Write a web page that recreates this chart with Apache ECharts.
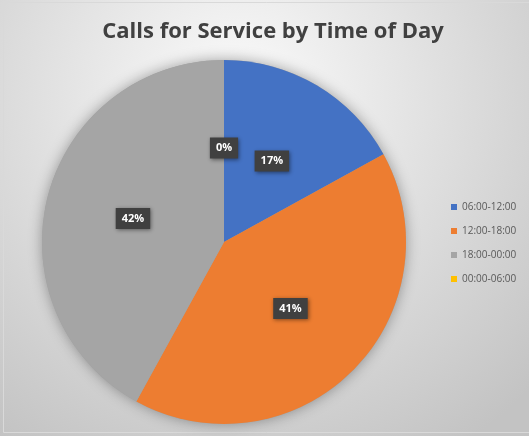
<!DOCTYPE html>
<html>
<head>
<meta charset="utf-8">
<script src="https://cdn.jsdelivr.net/npm/echarts@6/dist/echarts.min.js"></script>
<style>
  html, body { margin: 0; padding: 0; background: #ffffff; }
  #chart { width: 529px; height: 436px; }
</style>
</head>
<body>
<div id="chart"></div>
<script>
const titleText = "Calls for Service by Time of Day";
const categories = ["06:00-12:00", "12:00-18:00", "18:00-00:00", "00:00-06:00"];
const shares = [17, 41, 42, 0];
const colors = ["#4472C4", "#ED7D31", "#A5A5A5", "#FFC000"];

const chart = echarts.init(document.getElementById("chart"));

const pieData = categories.map((name, i) => ({ name, value: shares[i] }));

const option = {
  backgroundColor: {
    type: "radial",
    x: 0.45,
    y: 0.22,
    r: 0.95,
    colorStops: [
      { offset: 0, color: "#fbfbfb" },
      { offset: 1, color: "#c3c3c3" }
    ]
  },
  color: colors,
  title: {
    text: titleText,
    left: 268,
    textAlign: "center",
    top: 16,
    textStyle: {
      fontFamily: "Open Sans",
      fontWeight: "bold",
      fontSize: 22,
      color: "#404040"
    }
  },
  legend: {
    orient: "vertical",
    left: 446,
    top: 197,
    icon: "rect",
    itemWidth: 6,
    itemHeight: 6,
    itemGap: 14,
    data: categories,
    textStyle: {
      fontFamily: "Open Sans",
      fontSize: 10,
      color: "#595959"
    }
  },
  graphic: [
    {
      type: "rect",
      shape: { x: 3.5, y: 2.5, width: 530, height: 430 },
      style: { fill: "none", stroke: "#d9d9d9", lineWidth: 1 },
      silent: true
    }
  ],
  series: [
    {
      // shadow disc behind the slices
      type: "pie",
      silent: true,
      center: [224, 242],
      radius: [0, 182],
      label: { show: false },
      labelLine: { show: false },
      itemStyle: {
        color: "#a0a0a0",
        shadowBlur: 14,
        shadowColor: "rgba(0,0,0,0.35)"
      },
      data: [{ name: "bg", value: 1 }],
      z: 1
    },
    {
      name: titleText,
      type: "pie",
      center: [224, 242],
      radius: [0, 182],
      startAngle: 90,
      clockwise: true,
      percentPrecision: 0,
      z: 2,
      emphasis: { disabled: true },
      itemStyle: { borderWidth: 0 },
      label: {
        show: true,
        position: "inside",
        formatter: "{d}%",
        fontFamily: "Open Sans",
        fontSize: 11,
        fontWeight: "bold",
        color: "#ffffff",
        backgroundColor: "#404040",
        padding: [5, 6],
        shadowBlur: 4,
        shadowOffsetX: 1,
        shadowOffsetY: 1,
        shadowColor: "rgba(0,0,0,0.45)"
      },
      labelLine: { show: false },
      data: pieData
    }
  ]
};

chart.setOption(option);
</script>
</body>
</html>
